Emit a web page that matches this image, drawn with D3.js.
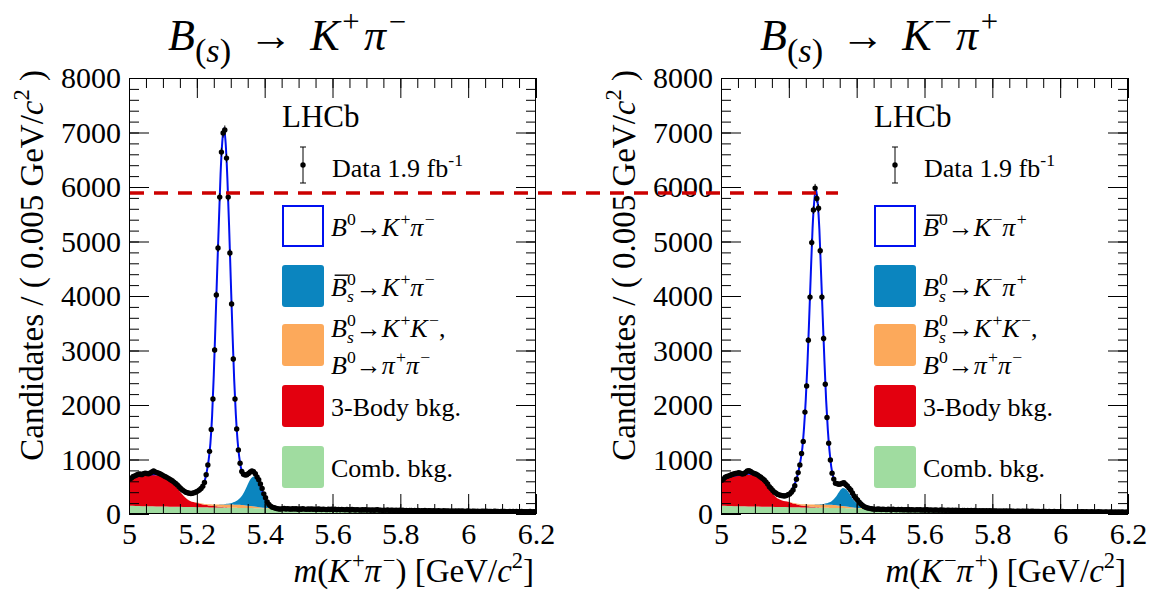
<!DOCTYPE html>
<html>
<head>
<meta charset="utf-8">
<script src="https://cdn.jsdelivr.net/npm/d3@7"></script>
</head>
<body style="margin:0">
<svg id="vis" width="1150" height="591"></svg>
<script>
// histogram bins: 0.005 GeV wide, starting at 5.0 GeV
var binLo = 5.0, binWidth = 0.005;

// candidates per bin, B -> K+ pi- (left)
var countsKpi = [
	640, 660, 690, 700, 715, 728, 735, 722, 740, 747,
	742, 738, 752, 770, 789, 772, 760, 747, 735, 718,
	700, 685, 668, 650, 628, 611, 585, 560, 532, 500,
	470, 440, 420, 400, 391, 380, 375, 380, 392, 405,
	420, 440, 470, 510, 580, 720, 900, 1150, 1550, 2110,
	3010, 4020, 4880, 5815, 6640, 6990, 7045, 6530, 5815, 4790,
	3855, 2845, 2110, 1560, 1175, 930, 780, 730, 715, 720,
	745, 770, 790, 775, 740, 680, 630, 550, 470, 370,
	300, 220, 175, 145, 125, 115, 105, 98, 92, 90,
	96, 101, 92, 98, 94, 89, 97, 91, 95, 88,
	93, 87, 96, 90, 85, 92, 88, 94, 86, 90,
	84, 91, 87, 82, 89, 85, 80, 88, 83, 86,
	81, 87, 79, 84, 78, 85, 80, 76, 83, 79,
	75, 82, 77, 73, 80, 76, 71, 78, 74, 79,
	72, 76, 70, 75, 68, 73, 77, 69, 72, 66,
	71, 67, 74, 65, 70, 68, 63, 71, 66, 69,
	64, 68, 62, 67, 60, 66, 63, 59, 65, 61,
	64, 58, 62, 60, 65, 57, 61, 59, 56, 62,
	58, 55, 60, 57, 53, 59, 56, 54, 58, 52,
	56, 53, 57, 51, 55, 50, 54, 52, 49, 55,
	51, 48, 53, 50, 47, 52, 49, 46, 51, 48,
	50, 45, 49, 47, 44, 50, 46, 48, 43, 47,
	45, 48, 44, 42, 47, 43, 46, 41, 45, 44,
	42, 46, 41, 44, 40, 43, 45, 39, 42, 41
];

// candidates per bin, B -> K- pi+ (right)
var countsPiK = [
	620, 645, 675, 690, 700, 712, 725, 735, 742, 750,
	758, 748, 735, 740, 762, 790, 795, 780, 760, 742,
	734, 718, 695, 675, 650, 624, 590, 550, 501, 470,
	430, 400, 380, 360, 349, 340, 335, 330, 338, 355,
	367, 400, 440, 520, 637, 760, 900, 1110, 1330, 1870,
	2350, 3190, 3980, 4980, 5580, 5980, 5790, 5610, 4830, 3980,
	3220, 2380, 1770, 1300, 990, 750, 640, 565, 555, 545,
	550, 565, 575, 540, 514, 475, 440, 385, 330, 290,
	257, 215, 183, 155, 134, 120, 110, 104, 98, 92,
	90, 85, 93, 88, 82, 89, 84, 80, 87, 83,
	78, 86, 81, 76, 84, 79, 82, 75, 80, 77,
	83, 74, 79, 76, 72, 80, 75, 78, 71, 76,
	73, 79, 70, 75, 72, 68, 74, 71, 67, 73,
	69, 72, 66, 71, 68, 64, 70, 65, 68, 63,
	67, 62, 66, 64, 60, 65, 61, 63, 59, 64,
	60, 57, 62, 58, 61, 56, 59, 55, 60, 57,
	54, 58, 56, 52, 57, 53, 55, 51, 56, 52,
	54, 50, 53, 49, 52, 51, 48, 53, 50, 47,
	51, 48, 46, 50, 47, 45, 49, 46, 44, 48,
	45, 47, 43, 46, 44, 42, 45, 43, 41, 44,
	42, 45, 40, 43, 41, 44, 39, 42, 40, 43,
	41, 38, 42, 40, 37, 41, 39, 38, 40, 36,
	39, 37, 40, 36, 38, 35, 39, 37, 34, 38,
	36, 35, 38, 34, 37, 33, 36, 35, 34, 36
];

// fit model, evaluated at these masses (GeV)
var fitMass = [
	5.00, 5.02, 5.04, 5.06, 5.08, 5.10, 5.12, 5.14, 5.16, 5.18,
	5.20, 5.21, 5.22, 5.225, 5.23, 5.235, 5.24, 5.245, 5.25, 5.255,
	5.26, 5.265, 5.27, 5.275, 5.28, 5.285, 5.29, 5.295, 5.30, 5.305,
	5.31, 5.315, 5.32, 5.325, 5.33, 5.335, 5.34, 5.35, 5.36, 5.37,
	5.38, 5.39, 5.40, 5.41, 5.42, 5.43, 5.44, 5.46, 5.48, 5.50,
	5.60, 5.70, 5.80, 5.90, 6.00, 6.10, 6.20
];

var combKpi = [
	150, 147, 144, 142, 139, 137, 134, 132, 130, 127,
	125, 124, 123, 122, 122, 121, 121, 120, 120, 119,
	119, 118, 118, 117, 117, 116, 116, 115, 114, 114,
	113, 113, 112, 112, 111, 111, 110, 109, 108, 107,
	106, 105, 104, 103, 102, 101, 100, 98, 97, 95,
	85, 76, 68, 61, 55, 50, 45
];
var threeBodyKpi = [
	490, 530, 560, 575, 570, 540, 470, 360, 210, 110,
	80, 65, 52, 46, 41, 37, 33, 29, 26, 22,
	19, 16, 13, 10, 8, 6, 4, 3, 2, 1,
	0, 0, 0, 0, 0, 0, 0, 0, 0, 0,
	0, 0, 0, 0, 0, 0, 0, 0, 0, 0,
	0, 0, 0, 0, 0, 0, 0
];
var kkppKpi = [
	0, 0, 0, 0, 0, 0, 0, 1, 2, 3,
	5, 8, 12, 14, 17, 20, 23, 27, 30, 34,
	37, 41, 44, 47, 50, 52, 54, 56, 57, 58,
	58, 58, 57, 56, 54, 52, 50, 44, 37, 30,
	22, 15, 9, 5, 3, 1, 0, 0, 0, 0,
	0, 0, 0, 0, 0, 0, 0
];
var bsKpi = [
	0, 0, 0, 0, 0, 0, 0, 0, 0, 0,
	0, 0, 0, 0, 0, 0, 0, 0, 0, 0,
	0, 1, 2, 3, 5, 8, 12, 18, 25, 35,
	48, 65, 85, 110, 145, 190, 250, 390, 510, 555,
	460, 310, 150, 55, 18, 5, 1, 0, 0, 0,
	0, 0, 0, 0, 0, 0, 0
];
var b0Kpi = [
	5, 8, 10, 14, 20, 28, 40, 60, 90, 140,
	200, 250, 350, 470, 620, 820, 1120, 1620, 2380, 3320,
	4280, 5180, 6060, 6650, 6900, 6620, 5980, 5110, 4120, 3140,
	2260, 1590, 1100, 770, 540, 410, 310, 200, 125, 80,
	60, 42, 35, 22, 12, 8, 5, 3, 2, 1,
	0, 0, 0, 0, 0, 0, 0
];

var combPiK = [
	150, 147, 144, 142, 139, 137, 134, 132, 130, 127,
	125, 124, 123, 122, 122, 121, 121, 120, 120, 119,
	119, 118, 118, 117, 117, 116, 116, 115, 114, 114,
	113, 113, 112, 112, 111, 111, 110, 109, 108, 107,
	106, 105, 104, 103, 102, 101, 100, 97, 95, 92,
	82, 73, 65, 58, 52, 46, 41
];
var threeBodyPiK = [
	470, 520, 550, 570, 580, 570, 500, 345, 190, 120,
	95, 75, 60, 52, 45, 40, 35, 31, 27, 23,
	20, 17, 14, 11, 8, 6, 4, 3, 2, 1,
	0, 0, 0, 0, 0, 0, 0, 0, 0, 0,
	0, 0, 0, 0, 0, 0, 0, 0, 0, 0,
	0, 0, 0, 0, 0, 0, 0
];
var kkppPiK = [
	0, 0, 0, 0, 0, 0, 0, 1, 2, 3,
	5, 8, 12, 14, 17, 20, 23, 27, 30, 34,
	37, 41, 44, 47, 50, 52, 54, 56, 57, 58,
	58, 58, 57, 56, 54, 52, 50, 44, 37, 30,
	22, 15, 9, 5, 3, 1, 0, 0, 0, 0,
	0, 0, 0, 0, 0, 0, 0
];
var bsPiK = [
	0, 0, 0, 0, 0, 0, 0, 0, 0, 0,
	0, 0, 0, 0, 0, 0, 0, 0, 0, 0,
	0, 0, 0, 1, 2, 3, 5, 8, 12, 17,
	24, 33, 45, 62, 90, 125, 165, 270, 330, 310,
	235, 140, 90, 35, 10, 2, 0, 0, 0, 0,
	0, 0, 0, 0, 0, 0, 0
];
var b0PiK = [
	5, 8, 10, 14, 20, 28, 40, 55, 80, 100,
	140, 250, 400, 510, 645, 820, 1040, 1420, 1930, 2600,
	3410, 4270, 5070, 5570, 5790, 5540, 5050, 4240, 3420, 2610,
	1890, 1340, 940, 640, 445, 320, 240, 130, 88, 73,
	62, 50, 42, 32, 16, 8, 5, 3, 2, 1,
	0, 0, 0, 0, 0, 0, 0
];

var yTicks = [0, 1000, 2000, 3000, 4000, 5000, 6000, 7000, 8000];
var xTicks = [5, 5.2, 5.4, 5.6, 5.8, 6, 6.2];
var xTickLabels = ["5", "5.2", "5.4", "5.6", "5.8", "6", "6.2"];
var dashLevel = 5890;   // red dashed reference line
var dashEndMass = 5.345; // where it stops, on the right-hand axis

var colComb = "#a0dca0", colThree = "#e3000f", colKKpp = "#fca95b", colBs = "#0b85bf", colLine = "#0010f0";
var faceName = "'Liberation Serif'";

var svg = d3.select("#vis");
var plotTop = 78, plotBottom = 514;

// warm the serif face up first, off the canvas
svg.append("text").attr("x", -500).attr("y", -100).style("font-family", faceName).style("font-size", "34px").text("Candidates LHCb 8000");
svg.append("text").attr("x", -500).attr("y", -50).style("font-family", faceName).style("font-size", "34px").style("font-style", "italic").text("B K m c");

var y = d3.scaleLinear().domain([0, 8000]).range([plotBottom, plotTop]);

function setFont(sel, size, italic)
{
	sel.attr("font-family", "Liberation Serif").style("font-family", faceName).style("font-size", size + "px");
	if (italic) sel.style("font-style", "italic");
	return sel;
}

// one <text> built of tspans: italic, super- and subscripts
function rich(parent, x, yy, parts, size, opt)
{
	opt = opt || {};
	var supS = opt.supScale || 0.68, subS = opt.subScale || 0.68;
	var supUp = opt.supUp || 0.42, subDown = opt.subDown || 0.24;
	var t = parent.append("text").attr("x", x).attr("y", yy).attr("text-anchor", opt.anchor || "start");
	setFont(t, size, false);
	if (opt.transform) t.attr("transform", opt.transform);
	var cur = 0, pend = 0;
	parts.forEach(function(p, i) {
		var fs = p.sup ? size * supS : p.sub ? size * subS : size;
		var off = p.sup ? -size * supUp : p.sub ? size * subDown : 0;
		var dx = pend;
		pend = 0;
		if (p.stack) { dx -= 0.34 * size; pend += 0.075 * size; }
		var ts = t.append("tspan").attr("dy", off - cur).text(p.t);
		if (dx) ts.attr("dx", dx);
		ts.style("font-size", fs + "px");
		if (p.it) ts.style("font-style", "italic");
		cur = off;
		if (p.pad) pend += p.pad * size;
		if (p.bar && i === 0)
		{
			parent.append("line")
				.attr("x1", x + size * 0.14).attr("x2", x + size * 0.68)
				.attr("y1", yy - size * 0.8).attr("y2", yy - size * 0.8)
				.attr("stroke", "#000").attr("stroke-width", 1.4);
		}
	});
	return t;
}

var B = { t: "B", it: 1 };
var arrow = { t: "\u2192" };
function sup(s, pad) { return { t: s, sup: 1, pad: pad || 0 }; }
var subS = { t: "s", sub: 1, it: 1, stack: 1 };

var panels = [
	{
		left: 129, right: 536,
		counts: countsKpi, comb: combKpi, threeBody: threeBodyKpi, kkpp: kkppKpi, bs: bsKpi, b0: b0Kpi,
		title: [B, { t: "(", sub: 1 }, { t: "s", sub: 1, it: 1 }, { t: ")", sub: 1, pad: 0.4 }, { t: "\u2192", pad: 0.4 },
			{ t: "K", it: 1, pad: 0.06 }, sup("+", 0.1), { t: "\u03c0", it: 1, pad: 0.06 }, sup("\u2212")],
		xTitle: [{ t: "m", it: 1 }, { t: "(" }, { t: "K", it: 1, pad: 0.05 }, sup("+"), { t: "\u03c0", it: 1, pad: 0.05 }, sup("\u2212"), { t: ") [GeV/" }, { t: "c", it: 1 }, sup("2"), { t: "]" }],
		leg: [
			[[B, sup("0"), arrow, { t: "K", it: 1, pad: 0.05 }, sup("+"), { t: "\u03c0", it: 1, pad: 0.05 }, sup("\u2212")]],
			[[{ t: "B", it: 1, bar: 1 }, sup("0"), subS, arrow, { t: "K", it: 1, pad: 0.05 }, sup("+"), { t: "\u03c0", it: 1, pad: 0.05 }, sup("\u2212")]]
		]
	},
	{
		left: 721, right: 1128,
		counts: countsPiK, comb: combPiK, threeBody: threeBodyPiK, kkpp: kkppPiK, bs: bsPiK, b0: b0PiK,
		title: [B, { t: "(", sub: 1 }, { t: "s", sub: 1, it: 1 }, { t: ")", sub: 1, pad: 0.4 }, { t: "\u2192", pad: 0.4 },
			{ t: "K", it: 1, pad: 0.06 }, sup("\u2212", 0.1), { t: "\u03c0", it: 1, pad: 0.06 }, sup("+")],
		xTitle: [{ t: "m", it: 1 }, { t: "(" }, { t: "K", it: 1, pad: 0.05 }, sup("\u2212"), { t: "\u03c0", it: 1, pad: 0.05 }, sup("+"), { t: ") [GeV/" }, { t: "c", it: 1 }, sup("2"), { t: "]" }],
		leg: [
			[[{ t: "B", it: 1, bar: 1 }, sup("0"), arrow, { t: "K", it: 1, pad: 0.05 }, sup("\u2212"), { t: "\u03c0", it: 1, pad: 0.05 }, sup("+")]],
			[[B, sup("0"), subS, arrow, { t: "K", it: 1, pad: 0.05 }, sup("\u2212"), { t: "\u03c0", it: 1, pad: 0.05 }, sup("+")]]
		]
	}
];

var commonLeg = [
	[[B, sup("0"), subS, arrow, { t: "K", it: 1, pad: 0.05 }, sup("+"), { t: "K", it: 1, pad: 0.05 }, sup("\u2212"), { t: "," }],
	 [B, sup("0"), arrow, { t: "\u03c0", it: 1, pad: 0.05 }, sup("+"), { t: "\u03c0", it: 1, pad: 0.05 }, sup("\u2212")]],
	[[{ t: "3-Body bkg." }]],
	[[{ t: "Comb. bkg." }]]
];
var legFill = ["#fff", colBs, colKKpp, colThree, colComb];
var boxTop = [205, 265, 324, 385, 446];
var legBase = [[236], [296], [337, 374], [416], [477]];

function drawPanel(p, idx)
{
	var x = d3.scaleLinear().domain([5.0, 6.2]).range([p.left, p.right]);
	p.x = x;

	var clipId = "clip" + idx;
	svg.append("clipPath").attr("id", clipId)
		.append("rect").attr("x", p.left).attr("y", plotTop).attr("width", p.right - p.left).attr("height", plotBottom - plotTop);

	var plot = svg.append("g").attr("clip-path", "url(#" + clipId + ")");

	// stacked fit components
	var rows = fitMass.map(function(m, i) {
		return { m: m, comb: p.comb[i], threeBody: p.threeBody[i], kkpp: p.kkpp[i], bs: p.bs[i], b0: p.b0[i] };
	});
	var series = d3.stack().keys(["comb", "threeBody", "kkpp", "bs"])(rows);
	var fills = [colComb, colThree, colKKpp, colBs];
	var area = d3.area()
		.x(function(d) { return x(d.data.m); })
		.y0(function(d) { return y(d[0]); })
		.y1(function(d) { return y(d[1]); })
		.curve(d3.curveMonotoneX);
	plot.selectAll("path.layer").data(series).enter().append("path")
		.attr("class", "layer")
		.attr("fill", function(d, i) { return fills[i]; })
		.attr("d", area);

	// total fit
	var line = d3.line()
		.x(function(d) { return x(d.m); })
		.y(function(d) { return y(d.comb + d.threeBody + d.kkpp + d.bs + d.b0); })
		.curve(d3.curveMonotoneX);
	plot.append("path").attr("d", line(rows)).attr("fill", "none").attr("stroke", colLine).attr("stroke-width", 2);

	// data points with poisson errors
	var pts = p.counts.map(function(n, i) { return { m: binLo + binWidth * (i + 0.5), n: n }; });
	plot.selectAll("line.err").data(pts).enter().append("line")
		.attr("class", "err")
		.attr("x1", function(d) { return x(d.m); }).attr("x2", function(d) { return x(d.m); })
		.attr("y1", function(d) { return y(d.n - Math.sqrt(d.n)); })
		.attr("y2", function(d) { return y(d.n + Math.sqrt(d.n)); })
		.attr("stroke", "#000").attr("stroke-width", 1);
	plot.selectAll("circle.pt").data(pts).enter().append("circle")
		.attr("class", "pt")
		.attr("cx", function(d) { return x(d.m); })
		.attr("cy", function(d) { return y(d.n); })
		.attr("r", 2.7)
		.attr("fill", "#000");

	// axes, ticks inward on all sides
	var xMinor = d3.range(0, 25).map(function(i) { return 5 + i * 0.05; });
	var yMinor = d3.range(0, 41).map(function(i) { return i * 200; });

	function style(g) {
		g.attr("font-family", null).attr("font-size", null);
		g.selectAll("line").attr("stroke", "#000");
		g.select(".domain").remove();
		g.selectAll("text").filter(function() { return this.textContent === ""; }).remove();
		setFont(g.selectAll("text").attr("fill", "#000"), 30, false);
	}

	svg.append("g").attr("transform", "translate(" + p.left + ",0)")
		.call(d3.axisLeft(y).tickValues(yMinor).tickSize(-10).tickFormat("")).call(style);
	svg.append("g").attr("transform", "translate(" + p.left + ",0)")
		.call(d3.axisLeft(y).tickValues(yTicks).tickSize(-20).tickPadding(8).tickFormat(d3.format("d"))).call(style);
	svg.append("g").attr("transform", "translate(" + p.right + ",0)")
		.call(d3.axisRight(y).tickValues(yMinor).tickSize(-10).tickFormat("")).call(style);
	svg.append("g").attr("transform", "translate(" + p.right + ",0)")
		.call(d3.axisRight(y).tickValues(yTicks).tickSize(-20).tickFormat("")).call(style);

	svg.append("g").attr("transform", "translate(0," + plotBottom + ")")
		.call(d3.axisBottom(x).tickValues(xMinor).tickSize(-10).tickFormat("")).call(style);
	svg.append("g").attr("transform", "translate(0," + plotBottom + ")")
		.call(d3.axisBottom(x).tickValues(xTicks).tickSize(-20).tickPadding(9)
			.tickFormat(function(d, i) { return xTickLabels[i]; })).call(style);
	svg.append("g").attr("transform", "translate(0," + plotTop + ")")
		.call(d3.axisTop(x).tickValues(xMinor).tickSize(-10).tickFormat("")).call(style);
	svg.append("g").attr("transform", "translate(0," + plotTop + ")")
		.call(d3.axisTop(x).tickValues(xTicks).tickSize(-20).tickFormat("")).call(style);

	svg.append("rect")
		.attr("x", p.left + 0.5).attr("y", plotTop + 0.5)
		.attr("width", p.right - p.left - 1).attr("height", plotBottom - plotTop - 1)
		.attr("fill", "none").attr("stroke", "#000").attr("stroke-width", 1);

	// axis titles
	rich(svg, p.right - 2, 582, p.xTitle, 33, { anchor: "end" });
	rich(svg, 0, 0, [{ t: "Candidates / ( 0.005 GeV/" }, { t: "c", it: 1 }, sup("2"), { t: " )" }], 33,
		{ anchor: "end", transform: "translate(" + (p.left - 86) + ",70) rotate(-90)" });

	// title
	rich(svg, p.left + 39, 50, p.title, 44, { subScale: 0.78, subDown: 0.28, supScale: 0.7, supUp: 0.4 });

	// legend
	var L = p.left;
	setFont(svg.append("text").attr("x", L + 153).attr("y", 127), 31, false).text("LHCb");
	svg.append("line").attr("x1", L + 174).attr("x2", L + 174).attr("y1", 147).attr("y2", 183).attr("stroke", "#000").attr("stroke-width", 1);
	svg.append("path").attr("d", "M" + (L + 171) + ",147h6M" + (L + 171) + ",183h6").attr("stroke", "#000").attr("stroke-width", 1);
	svg.append("circle").attr("cx", L + 174).attr("cy", 165).attr("r", 2.7).attr("fill", "#000");
	rich(svg, L + 203, 177, [{ t: "Data 1.9 fb" }, sup("-1")], 26);

	var legTexts = p.leg.concat(commonLeg);
	legTexts.forEach(function(lines, k) {
		svg.append("rect")
			.attr("x", L + 153 + (k === 0 ? 1 : 0)).attr("y", boxTop[k] + (k === 0 ? 1 : 0))
			.attr("width", k === 0 ? 40 : 42).attr("height", k === 0 ? 40 : 42)
			.attr("rx", k === 0 ? 0 : 3)
			.attr("fill", legFill[k])
			.attr("stroke", k === 0 ? colLine : "none").attr("stroke-width", 2);
		lines.forEach(function(parts, j) {
			rich(svg, L + 202, legBase[k][j], parts, 26);
		});
	});
}

panels.forEach(drawPanel);

// red dashed line across both panels
svg.append("line")
	.attr("x1", panels[0].x(5.0) + 1).attr("x2", panels[1].x(dashEndMass))
	.attr("y1", y(dashLevel)).attr("y2", y(dashLevel))
	.attr("stroke", "#cc0000").attr("stroke-width", 3.5)
	.attr("stroke-dasharray", "14,10");
</script>
</body>
</html>
